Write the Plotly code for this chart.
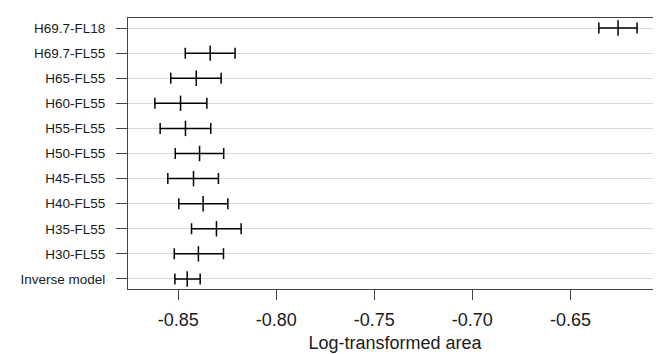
import plotly.graph_objects as go

categories = ["H69.7-FL18", "H69.7-FL55", "H65-FL55", "H60-FL55", "H55-FL55",
              "H50-FL55", "H45-FL55", "H40-FL55", "H35-FL55", "H30-FL55", "Inverse model"]
estimate = [-0.6257, -0.8337, -0.8408, -0.8488, -0.8463, -0.8391, -0.8422, -0.8373, -0.8305, -0.8397, -0.8454]
lower = [-0.6355, -0.8464, -0.8538, -0.8619, -0.8592, -0.8515, -0.8553, -0.8497, -0.8432, -0.8520, -0.8517]
upper = [-0.6160, -0.8210, -0.8281, -0.8354, -0.8334, -0.8268, -0.8295, -0.8247, -0.8179, -0.8269, -0.8388]
x_ticks = [-0.85, -0.80, -0.75, -0.70, -0.65]
x_ticklabels = ["-0.85", "-0.80", "-0.75", "-0.70", "-0.65"]

err_plus = [u - e for u, e in zip(upper, estimate)]
err_minus = [e - l for e, l in zip(estimate, lower)]

fig = go.Figure()
fig.add_trace(go.Scatter(
    x=estimate, y=categories, mode="markers",
    marker=dict(symbol="line-ns", size=11, color="black", line=dict(width=1.5, color="black")),
    error_x=dict(type="data", symmetric=False, array=err_plus, arrayminus=err_minus,
                 color="black", thickness=1.5, width=5.5),
    showlegend=False, hoverinfo="x+y",
))

font = "Liberation Sans, Arial, sans-serif"
fig.update_layout(
    width=661, height=354,
    margin=dict(l=120, r=7, t=10, b=73),
    plot_bgcolor="white", paper_bgcolor="white",
    font=dict(family=font, color="#1a1a1a"),
    xaxis=dict(
        range=[-0.8756, -0.6033],
        tickvals=x_ticks, ticktext=x_ticklabels,
        ticks="outside", ticklen=10, tickwidth=1, tickcolor="#444",
        tickfont=dict(size=18, family=font, color="#1a1a1a"),
        ticklabelstandoff=4,
        showgrid=False, zeroline=False,
        showline=True, linecolor="#444", linewidth=1, mirror=True,
        title=dict(text="Log-transformed area", font=dict(size=18, family=font, color="#1a1a1a"), standoff=7),
    ),
    yaxis=dict(
        type="category", categoryorder="array", categoryarray=categories,
        range=[10.4, -0.4],
        ticks="outside", ticklen=11, tickwidth=1, tickcolor="#444",
        tickfont=dict(size=13.5, family=font, color="#1a1a1a"),
        ticklabelstandoff=8,
        showgrid=True, gridcolor="#d9d9d9", gridwidth=1,
        zeroline=False,
        showline=True, linecolor="#444", linewidth=1, mirror=True,
    ),
)

fig.write_html("out.html")
